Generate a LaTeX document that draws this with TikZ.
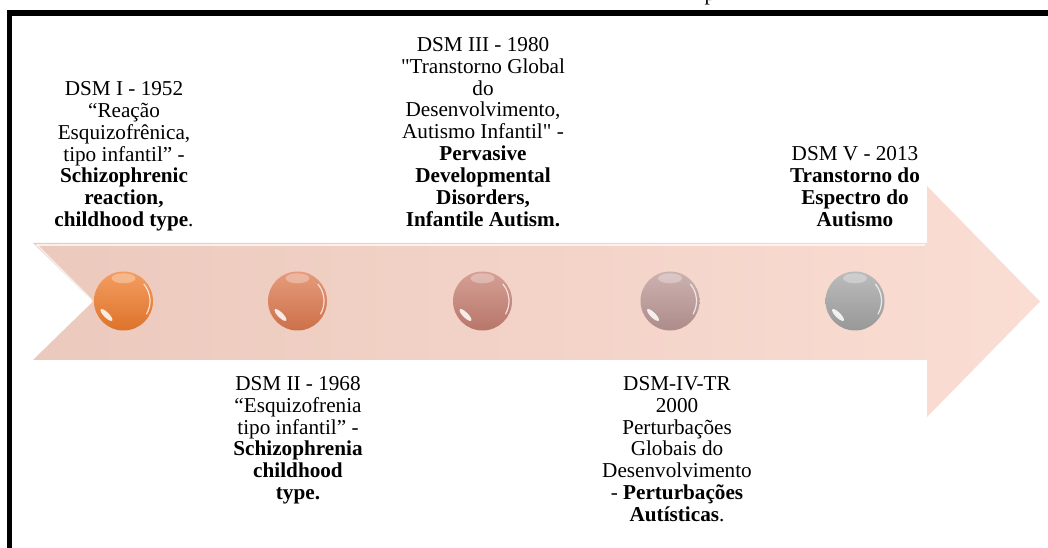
\documentclass[tikz,border=0pt]{standalone}
\usepackage{fontspec}
\setmainfont{Liberation Serif}[Ligatures=TeXOff]
\definecolor{arrL}{RGB}{236,201,189}
\definecolor{arrR}{RGB}{250,221,211}
\definecolor{ballA}{RGB}{240,125,45}
\definecolor{ballB}{RGB}{222,122,80}
\definecolor{ballC}{RGB}{200,128,114}
\definecolor{ballD}{RGB}{188,152,150}
\definecolor{ballE}{RGB}{165,165,165}
\begin{document}
\begin{tikzpicture}[x=1pt,y=1pt,
  txt/.style={align=center, inner sep=0pt, font=\fontsize{21.2}{21.9}\selectfont},
  ball/.style={circle, minimum size=59pt, inner sep=0pt},
  frame/.style={line width=6pt, black}]
\useasboundingbox (0,0) rectangle (1048,548);
\fill[white] (0,0) rectangle (1048,548);
% clipped text fragment at the very top
\begin{scope}
  \clip (0,538) rectangle (1048,548);
  \node[anchor=base west, inner sep=0pt, font=\fontsize{21.2}{21.9}\selectfont] (frag) at (704.5,547.5) {p};
\end{scope}
% frame
\draw[frame] (7,535) -- (1048,535);
\draw[line width=5.5pt] (9.5,538) -- (9.5,0);
% arrow
\shade[left color=arrL, right color=arrR]
  (33,305) -- (927,305) -- (927,362) -- (1040,246.5) -- (927,131) -- (927,188) -- (33,188) -- (93,246.5) -- cycle;
\draw[white, opacity=.7, line width=1.3pt] (36,303) -- (925,303);
\draw[white, opacity=.7, line width=1.3pt] (37,303) -- (92,248);
% spheres
\node[ball, top color=ballA!75!white, bottom color=ballA!92!black] (s1) at (123.5,247) {};
\node[ball, top color=ballB!75!white, bottom color=ballB!92!black] (s2) at (297.5,247) {};
\node[ball, top color=ballC!75!white, bottom color=ballC!92!black] (s3) at (482.5,247) {};
\node[ball, top color=ballD!75!white, bottom color=ballD!92!black] (s4) at (670,247) {};
\node[ball, top color=ballE!75!white, bottom color=ballE!92!black] (s5) at (855,247) {};
\foreach \n in {s1,s2,s3,s4,s5}{
  \fill[white, opacity=.3] ([yshift=-7pt]\n.north) ellipse [x radius=12pt, y radius=5pt];
  \fill[white, opacity=.85] ([shift={(-17pt,-14pt)}]\n.center) circle [x radius=8pt, y radius=2.6pt, rotate=-45];
  \draw[white, opacity=.75, line width=1.2pt] ([shift={(-30:26.5pt)}]\n.center) arc [start angle=-30, end angle=40, radius=26.5pt];
}
% texts above
\node[txt, anchor=south] (t1) at (124,316.5) {DSM I - 1952\\“Reação\\Esquizofrênica,\\tipo infantil” -\\\textbf{Schizophrenic}\\\textbf{reaction,}\\\textbf{childhood type}.};
\node[txt, anchor=south] (t3) at (483,321) {DSM III - 1980\\"Transtorno Global\\do\\Desenvolvimento,\\Autismo Infantil" -\\\textbf{Pervasive}\\\textbf{Developmental}\\\textbf{Disorders,}\\\textbf{Infantile Autism.}};
\node[txt, anchor=south] (t5) at (855,321) {DSM V - 2013\\\textbf{Transtorno do}\\\textbf{Espectro do}\\\textbf{Autismo}};
% texts below
\node[txt, anchor=north] (t2) at (298,172) {DSM II - 1968\\“Esquizofrenia\\tipo infantil” -\\\textbf{Schizophrenia}\\\textbf{childhood}\\\textbf{type.}};
\node[txt, anchor=north] (t4) at (677,172) {DSM-IV-TR\\2000\\Perturbações\\Globais do\\Desenvolvimento\\- \textbf{Perturbações}\\\textbf{Autísticas}.};
\end{tikzpicture}
\end{document}
